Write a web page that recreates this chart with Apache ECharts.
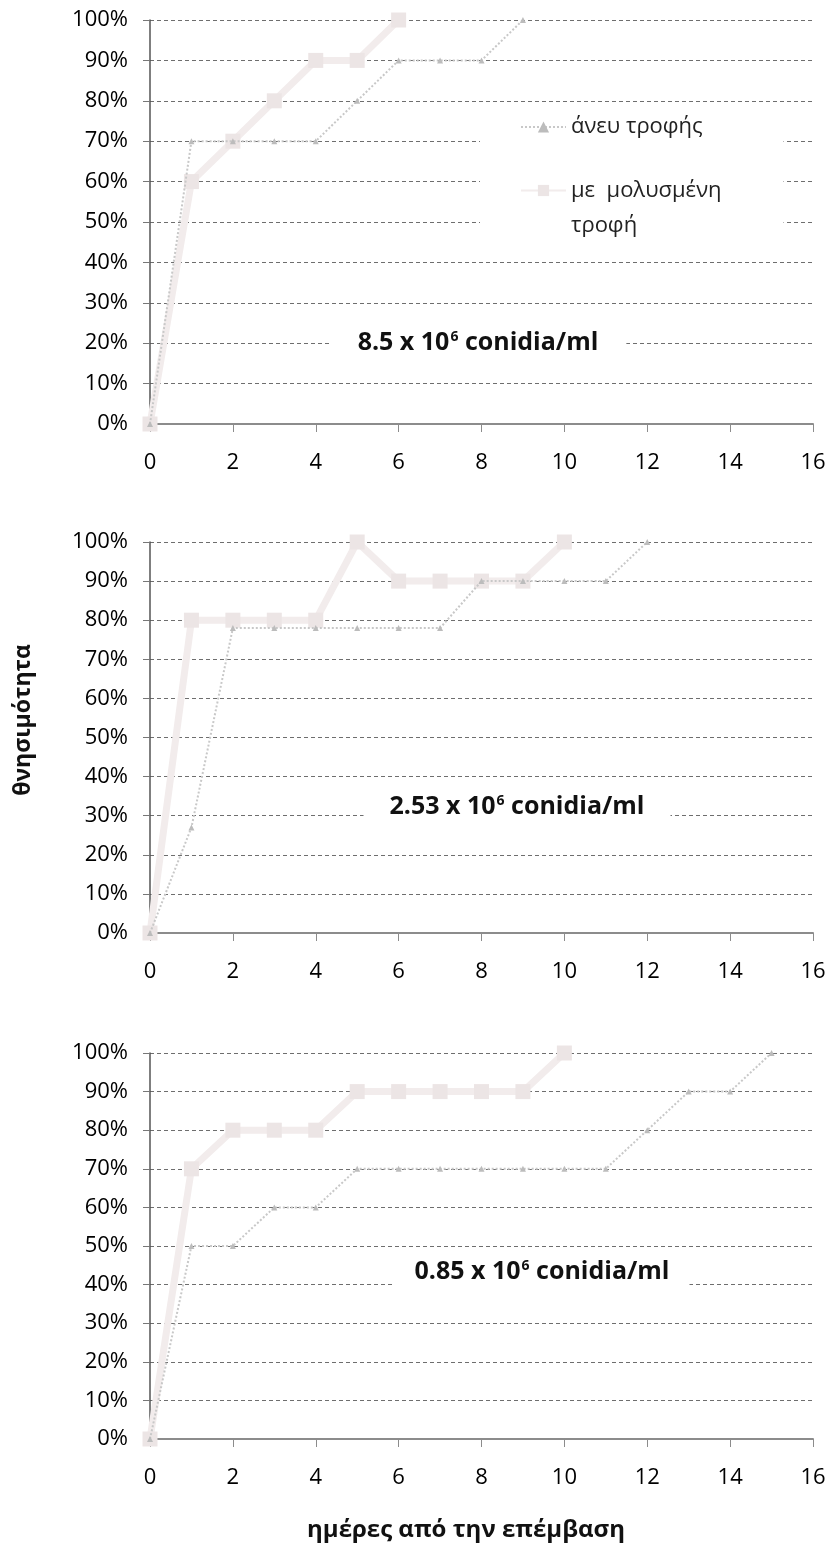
<!DOCTYPE html>
<html>
<head>
<meta charset="utf-8">
<script src="https://cdn.jsdelivr.net/npm/echarts@6/dist/echarts.min.js"></script>
<style>
html,body{margin:0;padding:0;background:#fff;}
#chart{width:833px;height:1545px;}
</style>
</head>
<body>
<div id="chart"></div>
<script>
// ---- data ----
const seriesNames = ['άνευ τροφής', 'με μολυσμένη τροφή'];
const xTicks = [0, 2, 4, 6, 8, 10, 12, 14, 16];
const concentrations = ['8.5', '2.53', '0.85'];

// panel 1: 8.5 x 10^6 conidia/ml
const days1NoFood = [0, 1, 2, 3, 4, 5, 6, 7, 8, 9];
const mort1NoFood = [0, 70, 70, 70, 70, 80, 90, 90, 90, 100];
const days1Food = [0, 1, 2, 3, 4, 5, 6];
const mort1Food = [0, 60, 70, 80, 90, 90, 100];

// panel 2: 2.53 x 10^6 conidia/ml
const days2NoFood = [0, 1, 2, 3, 4, 5, 6, 7, 8, 9, 10, 11, 12];
const mort2NoFood = [0, 27, 78, 78, 78, 78, 78, 78, 90, 90, 90, 90, 100];
const days2Food = [0, 1, 2, 3, 4, 5, 6, 7, 8, 9, 10];
const mort2Food = [0, 80, 80, 80, 80, 100, 90, 90, 90, 90, 100];

// panel 3: 0.85 x 10^6 conidia/ml
const days3NoFood = [0, 1, 2, 3, 4, 5, 6, 7, 8, 9, 10, 11, 12, 13, 14, 15];
const mort3NoFood = [0, 50, 50, 60, 60, 70, 70, 70, 70, 70, 70, 70, 80, 90, 90, 100];
const days3Food = [0, 1, 2, 3, 4, 5, 6, 7, 8, 9, 10];
const mort3Food = [0, 70, 80, 80, 80, 90, 90, 90, 90, 90, 100];

const yTitle = 'θνησιμότητα';
const xTitle = 'ημέρες από την επέμβαση';

// ---- layout / styles ----
const FONT = '"Open Sans", "Noto Sans", sans-serif';
const panels = [
  {top: 20, height: 404, ann: {x: 478, y: 343, pad: [3, 28]}},
  {top: 542, height: 391, ann: {x: 517, y: 807, pad: [3, 26]}},
  {top: 1053, height: 386, ann: {x: 542, y: 1272, pad: [3, 20]}}
];
const pairs = [
  [days1NoFood, mort1NoFood, days1Food, mort1Food],
  [days2NoFood, mort2NoFood, days2Food, mort2Food],
  [days3NoFood, mort3NoFood, days3Food, mort3Food]
];
const zip = (xs, ys) => xs.map((x, i) => [x, ys[i]]);

const grids = [], xAxes = [], yAxes = [], series = [], graphics = [];
panels.forEach((p, i) => {
  grids.push({left: 150, right: 20, top: p.top, height: p.height});
  xAxes.push({
    type: 'value', gridIndex: i, min: 0, max: 16, interval: 2,
    axisLine: {show: true, onZero: false, lineStyle: {color: '#8c8c8c', width: 2}},
    axisTick: {show: true, length: 8, lineStyle: {color: '#8c8c8c', width: 1}},
    axisLabel: {margin: 28, fontFamily: FONT, fontSize: 22, color: '#000',
      formatter: v => (xTicks.includes(v) ? String(v) : '')},
    splitLine: {show: false}
  });
  yAxes.push({
    type: 'value', gridIndex: i, min: 0, max: 100, interval: 10,
    axisLine: {show: true, lineStyle: {color: '#555', width: 1.5}},
    axisTick: {show: true, length: 7, lineStyle: {color: '#777'}},
    axisLabel: {margin: 22, fontFamily: FONT, fontSize: 22, color: '#000', formatter: '{value}%'},
    splitLine: {show: true, lineStyle: {color: '#6e6e6e', width: 1, type: [4, 3]}}
  });
  const [dA, mA, dB, mB] = pairs[i];
  series.push({
    name: seriesNames[0], type: 'line', xAxisIndex: i, yAxisIndex: i,
    data: zip(dA, mA), clip: false, z: 4,
    lineStyle: {color: '#c8c8c8', width: 2, type: 'dotted'},
    symbol: 'triangle', symbolSize: 6,
    itemStyle: {color: '#bcbcbc'}
  });
  series.push({
    name: seriesNames[1], type: 'line', xAxisIndex: i, yAxisIndex: i,
    data: zip(dB, mB), clip: false, z: 3,
    lineStyle: {color: '#f2ecec', width: 7},
    symbol: 'rect', symbolSize: 15,
    itemStyle: {color: '#ece5e5'}
  });
  graphics.push({
    type: 'text', x: p.ann.x, y: p.ann.y, z: 100,
    style: {
      text: '{b|' + concentrations[i] + ' x 10}{s|6}{b| conidia/ml}',
      align: 'center', verticalAlign: 'middle',
      backgroundColor: '#fff', padding: p.ann.pad,
      rich: {
        b: {fontFamily: FONT, fontSize: 25, fontWeight: 'bold', fill: '#111', lineHeight: 32, verticalAlign: 'middle'},
        s: {fontFamily: FONT, fontSize: 14, fontWeight: 'bold', fill: '#111', lineHeight: 32, verticalAlign: 'top', padding: [3, 0, 0, 1]}
      }
    }
  });
});

graphics.push({
  type: 'text', x: 23, y: 720, rotation: Math.PI / 2, z: 100,
  style: {text: yTitle, fontFamily: FONT, fontSize: 23, fontWeight: 'bold', fill: '#111',
    align: 'center', verticalAlign: 'middle'}
});
graphics.push({
  type: 'text', x: 466, y: 1530, z: 100,
  style: {text: xTitle, fontFamily: FONT, fontSize: 24, fontWeight: 'bold', fill: '#111',
    align: 'center', verticalAlign: 'middle'}
});

const chart = echarts.init(document.getElementById('chart'), null, {renderer: 'canvas'});
chart.setOption({
  backgroundColor: '#fff',
  animation: false,
  grid: grids,
  xAxis: xAxes,
  yAxis: yAxes,
  legend: {
    left: 480, top: 112, orient: 'vertical',
    backgroundColor: '#fff',
    padding: [4, 62, 2, 40],
    itemWidth: 45, itemHeight: 14, itemGap: 0,
    textStyle: {fontFamily: FONT, fontSize: 22, color: '#222'},
    data: [
      {name: seriesNames[0], textStyle: {lineHeight: 22}},
      {name: seriesNames[1], textStyle: {lineHeight: 35}}
    ],
    formatter: n => (n === seriesNames[1] ? '\nμε  μολυσμένη\nτροφή' : n)
  },
  series: series,
  graphic: graphics
});
</script>
</body>
</html>
